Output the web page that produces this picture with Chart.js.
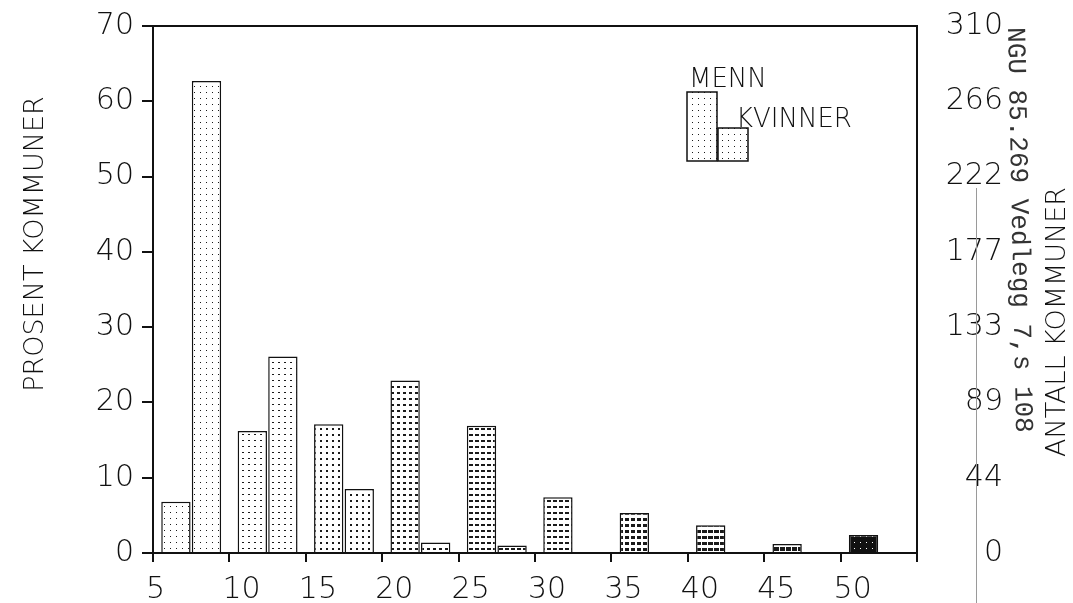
<!DOCTYPE html>
<html>
<head>
<meta charset="utf-8">
<script src="https://cdn.jsdelivr.net/npm/chart.js@4.4.1/dist/chart.umd.min.js"></script>
<style>
    html, body { margin: 0; padding: 0; background: #fff; }
</style>
</head>
<body>
<canvas id="kommuneChart" width="1073" height="603"></canvas>
<script>
// klasser (nedre grense), prosent kommuner per klasse
var klasser = ['5', '10', '15', '20', '25', '30', '35', '40', '45', '50'];
var menn = [6.8, 16.2, 17.1, 22.9, 16.9, 7.4, 5.3, 3.7, 1.2, 2.4];
var kvinner = [62.7, 26.1, 8.5, 1.4, 1.0, 0, 0, 0, 0, 0];
var prosentSteg = 10;
var antallTicks = ['0', '44', '89', '133', '177', '222', '266', '310'];

var TEXT = '#111';
var LINE = '#111';
var FAMILY = '"DejaVu Sans", sans-serif';

function makePattern(draw, bg) {
    var c = document.createElement('canvas');
    c.width = 6;
    c.height = 6;
    var g = c.getContext('2d');
    g.fillStyle = bg || '#fff';
    g.fillRect(0, 0, 6, 6);
    g.fillStyle = bg ? '#fff' : '#1a1a1a';
    draw(g);
    return g.createPattern(c, 'repeat');
}

// monsteret blir tettere jo hoyere klassen er
var monstre = [
    makePattern(function (g) { g.fillRect(2, 2, 1, 1); }),
    makePattern(function (g) { g.fillRect(2, 2, 2, 1); }),
    makePattern(function (g) { g.fillRect(2, 2, 2, 2); }),
    makePattern(function (g) { g.fillRect(1, 2, 3, 2); }),
    makePattern(function (g) { g.fillRect(1, 2, 4, 2); }),
    makePattern(function (g) { g.fillRect(1, 2, 4, 2); }),
    makePattern(function (g) { g.fillRect(1, 2, 4, 3); }),
    makePattern(function (g) { g.fillRect(0, 2, 5, 3); }),
    makePattern(function (g) { g.fillRect(0, 1, 5, 4); }),
    makePattern(function (g) { g.fillRect(2, 2, 1, 1); }, '#111')
];

function fyll(ctx) {
    return monstre[ctx.dataIndex] || monstre[0];
}

var tekstPlugin = {
    id: 'tekster',
    afterDraw: function (chart) {
        var c = chart.ctx;
        c.save();

        // tynn strek fra skanningen
        c.strokeStyle = '#9a9a9a';
        c.lineWidth = 1;
        c.beginPath();
        c.moveTo(976.5, 188);
        c.lineTo(976.5, 603);
        c.stroke();

        c.fillStyle = TEXT;
        c.textAlign = 'center';
        c.textBaseline = 'middle';
        c.font = '200 27px ' + FAMILY;

        c.save();
        c.translate(36, 244);
        c.rotate(-Math.PI / 2);
        c.fillText('PROSENT KOMMUNER', 0, 0);
        c.restore();

        c.save();
        c.translate(1058, 322);
        c.rotate(-Math.PI / 2);
        c.fillText('ANTALL KOMMUNER', 0, 0);
        c.restore();

        c.fillStyle = '#333';
        c.font = '26px "Liberation Mono"';
        c.save();
        c.translate(1019, 230);
        c.rotate(Math.PI / 2 - 0.02);
        c.fillText('NGU 85.269 Vedlegg 7,s 108', 0, 0);
        c.restore();

        // tegnforklaring
        c.lineWidth = 1.5;
        c.strokeStyle = LINE;
        c.fillStyle = monstre[0];
        c.fillRect(687, 92, 30, 69);
        c.strokeRect(687, 92, 30, 69);
        c.fillRect(718, 128, 30, 33);
        c.strokeRect(718, 128, 30, 33);

        c.fillStyle = TEXT;
        c.textAlign = 'left';
        c.textBaseline = 'alphabetic';
        c.font = '200 26px ' + FAMILY;
        c.fillText('MENN', 689, 87);
        c.fillText('KVINNER', 736, 127);

        c.restore();
    }
};

var tickFont = { family: FAMILY, size: 30, weight: 200 };

new Chart(document.getElementById('kommuneChart'), {
    type: 'bar',
    data: {
        labels: klasser,
        datasets: [{
            label: 'MENN',
            data: menn,
            xAxisID: 'x',
            yAxisID: 'y',
            backgroundColor: fyll,
            borderColor: LINE,
            borderWidth: 1.5,
            categoryPercentage: 0.8,
            barPercentage: 0.96
        }, {
            label: 'KVINNER',
            data: kvinner,
            xAxisID: 'x',
            yAxisID: 'y',
            backgroundColor: fyll,
            borderColor: LINE,
            borderWidth: 1.5,
            categoryPercentage: 0.8,
            barPercentage: 0.96
        }]
    },
    options: {
        responsive: false,
        animation: false,
        layout: { padding: { left: 0, right: 70, top: 0, bottom: 0 } },
        plugins: { legend: { display: false }, tooltip: { enabled: false } },
        scales: {
            x: { type: 'category', display: false, offset: true },
            xt: {
                type: 'linear',
                position: 'bottom',
                offset: false,
                min: 5,
                max: 55,
                ticks: {
                    stepSize: 5,
                    autoSkip: false,
                    maxRotation: 0,
                    align: 'start',
                    labelOffset: -7,
                    padding: 10,
                    color: TEXT,
                    font: tickFont,
                    callback: function (v) { return v > 50 ? '' : v; }
                },
                grid: { offset: false, drawOnChartArea: false, tickLength: 9, color: LINE, lineWidth: 2 },
                border: { color: LINE, width: 2 },
                afterFit: function (s) { s.height = 50; }
            },
            xTop: {
                type: 'linear',
                position: 'top',
                offset: false,
                min: 5,
                max: 55,
                ticks: { display: false },
                grid: { display: false, offset: false },
                border: { color: LINE, width: 2 },
                afterFit: function (s) { s.height = 24; }
            },
            y: {
                position: 'left',
                min: 0,
                max: 70,
                ticks: { stepSize: prosentSteg, padding: 8, color: TEXT, font: tickFont },
                grid: { drawOnChartArea: false, tickLength: 11, color: LINE, lineWidth: 2 },
                border: { color: LINE, width: 2 },
                afterFit: function (s) { s.width = 153; }
            },
            y2: {
                position: 'right',
                min: 0,
                max: 70,
                ticks: {
                    stepSize: prosentSteg,
                    crossAlign: 'far',
                    color: TEXT,
                    font: tickFont,
                    callback: function (v, i) { return antallTicks[i]; }
                },
                grid: { display: false },
                border: { color: LINE, width: 2 },
                afterFit: function (s) { s.width = 86; }
            }
        }
    },
    plugins: [tekstPlugin]
});
</script>
</body>
</html>
